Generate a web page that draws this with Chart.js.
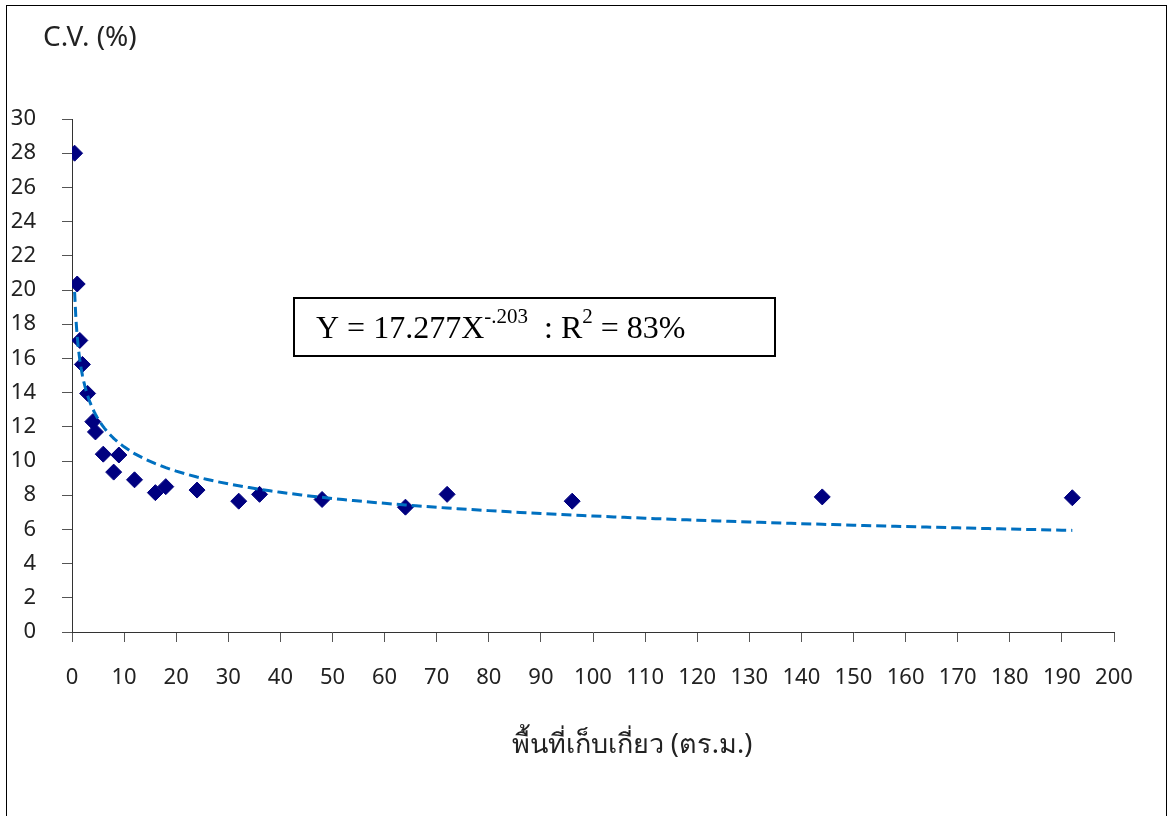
<!DOCTYPE html>
<html>
<head>
<meta charset="utf-8">
<script src="https://cdn.jsdelivr.net/npm/chart.js@4"></script>
<style>
  html, body { margin: 0; padding: 0; background: #fff; }
  canvas { display: block; }
</style>
</head>
<body>
<canvas id="myChart" width="1176" height="816"></canvas>
<script>
  // plot size (sq.m.) and C.V. (%)
  const areaSizes = [0.5, 1, 1.5, 2, 3, 4, 4.5, 6, 8, 9, 12, 16, 18, 24, 32, 36, 48, 64, 72, 96, 144, 192];
  const cvValues = [28.0, 20.35, 17.05, 15.65, 13.95, 12.3, 11.7, 10.4, 9.35, 10.35, 8.9, 8.15, 8.5, 8.3, 7.65, 8.05, 7.75, 7.3, 8.05, 7.65, 7.9, 7.85];

  // trend line Y = a * X^b taken from the equation in the chart
  const trendA = 17.277;
  const trendB = -0.203;
  const trendX = [];
  for (let x = 0.5; x <= 192; x += (x < 10 ? 0.25 : 2)) trendX.push(x);
  trendX.push(192);
  const trendPts = trendX.map(x => ({ x: x, y: trendA * Math.pow(x, trendB) }));

  const xTicks = [0, 200, 10];
  const yTicks = [0, 30, 2];

  const tickFont = { family: "'Noto Sans', 'DejaVu Sans', sans-serif", size: 22 };

  const extras = {
    id: 'extras',
    afterDraw(chart) {
      const c = chart.ctx;
      c.save();
      // outer frame
      c.strokeStyle = '#000';
      c.lineWidth = 1;
      c.strokeRect(6.5, 5.5, 1160, 830);

      // y title
      c.fillStyle = '#222';
      c.font = "28px 'Noto Sans', 'DejaVu Sans', sans-serif";
      c.textBaseline = 'middle';
      c.textAlign = 'left';
      c.fillText('C.V. (%)', 43, 38);

      // x title
      c.font = "27px 'Noto Sans', 'DejaVu Sans', sans-serif";
      c.textAlign = 'center';
      c.fillText('พื้นที่เก็บเกี่ยว (ตร.ม.)', 632, 745);

      // equation box
      c.lineWidth = 2;
      c.strokeRect(294, 298, 481, 58);
      c.fillStyle = '#000';
      c.textAlign = 'left';
      c.textBaseline = 'alphabetic';
      let x = 316;
      const base = 338;
      const big = "32px 'Liberation Serif', serif";
      const small = "21px 'Liberation Serif', serif";
      const part = (txt, font, dy) => {
        c.font = font;
        c.fillText(txt, x, base + dy);
        x += c.measureText(txt).width;
      };
      part('Y = 17.277X', big, 0);
      part('-.203', small, -15);
      part('  : R', big, 0);
      part('2', small, -15);
      part(' = 83%', big, 0);
      c.restore();
    }
  };

  const ctx = document.getElementById('myChart');

  new Chart(ctx, {
    type: 'scatter',
    data: {
      datasets: [
        {
          label: 'C.V.',
          data: areaSizes.map((a, i) => ({ x: a, y: cvValues[i] })),
          pointStyle: 'rectRot',
          pointRadius: 8,
          pointHoverRadius: 8,
          backgroundColor: '#000080',
          borderColor: '#000080',
          borderWidth: 1,
          order: 2
        },
        {
          label: 'trend',
          type: 'line',
          data: trendPts,
          borderColor: '#0070C0',
          borderWidth: 3,
          borderDash: [10, 5],
          pointRadius: 0,
          fill: false,
          tension: 0,
          order: 1
        }
      ]
    },
    options: {
      responsive: false,
      animation: false,
      layout: { padding: { left: 10, right: 62, top: 119, bottom: 0 } },
      plugins: {
        legend: { display: false },
        tooltip: { enabled: false }
      },
      scales: {
        x: {
          type: 'linear',
          min: xTicks[0],
          max: xTicks[1],
          afterFit(scale) { scale.height = 184; },
          ticks: {
            stepSize: xTicks[2],
            color: '#222',
            font: tickFont,
            padding: 23,
            maxRotation: 0,
            autoSkip: false
          },
          grid: {
            drawOnChartArea: false,
            drawTicks: true,
            tickLength: 10,
            color: '#555'
          },
          border: { color: '#333', width: 1 }
        },
        y: {
          type: 'linear',
          min: yTicks[0],
          max: yTicks[1],
          afterFit(scale) { scale.width = 62; },
          ticks: {
            stepSize: yTicks[2],
            color: '#222',
            font: tickFont,
            padding: 26
          },
          grid: {
            drawOnChartArea: false,
            drawTicks: true,
            tickLength: 10,
            color: '#555'
          },
          border: { color: '#333', width: 1 }
        }
      }
    },
    plugins: [extras]
  });
</script>
</body>
</html>
